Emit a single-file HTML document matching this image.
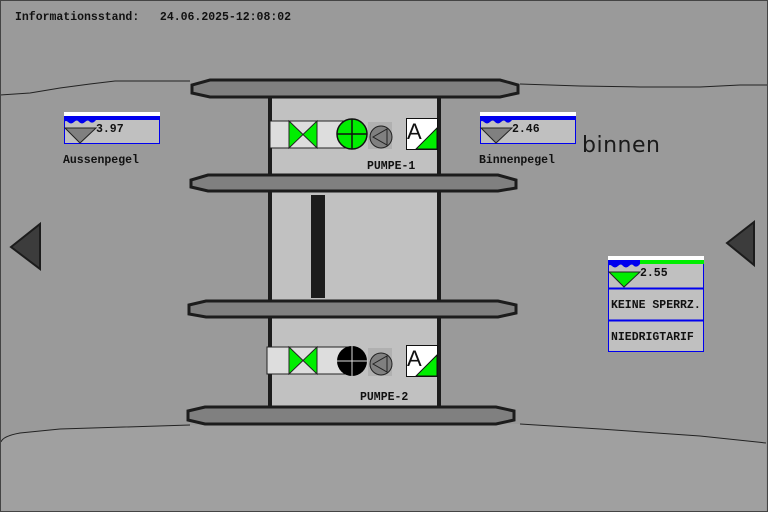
<!DOCTYPE html>
<html><head><meta charset="utf-8"><style>
html,body{margin:0;padding:0;background:#9a9a9a;}
svg{display:block}
text{font-family:"Liberation Mono",monospace;font-weight:bold;font-size:11.5px;fill:#111;white-space:pre}
</style></head><body>
<svg width="768" height="512" viewBox="0 0 768 512" xmlns="http://www.w3.org/2000/svg">
<rect x="0" y="0" width="768" height="512" fill="#9a9a9a"/>
<path d="M1,442 Q3,436 20,433 L60,429 L190,425 L520,424 L600,429 L700,436 L766,443 L766,512 L1,512 Z" fill="#a0a0a0"/>
<path d="M1,442 Q3,436 20,433 L60,429 L190,425 M520,424 L600,429 L700,436 L766,443" fill="none" stroke="#222" stroke-width="1"/>
<polyline points="0,95 30,93 60,88 90,84 115,81 190,81" fill="none" stroke="#222" stroke-width="1"/>
<polyline points="520,84 580,86 640,87 700,87 740,85 768,85" fill="none" stroke="#222" stroke-width="1"/>
<rect x="0.5" y="0.5" width="767" height="511" fill="none" stroke="#444" stroke-width="1"/>
<rect x="270" y="95" width="169" height="313" fill="#c1c1c1"/>
<rect x="268" y="95" width="4" height="313" fill="#1c1c1c"/>
<rect x="437" y="95" width="4" height="313" fill="#1c1c1c"/>
<rect x="311" y="195" width="14" height="103" fill="#1c1c1c"/>
<g fill="#808080" stroke="#1c1c1c" stroke-width="3">
<polygon points="210,80 500,80 518,85 518,93 500,97 210,97 192,93 192,85"/>
<polygon points="208,175 498,175 516,180 516,188 498,191 208,191 191,187 191,180"/>
<polygon points="206,301 498,301 516,305 516,313 498,317 206,317 189,314 189,305"/>
<polygon points="205,407 496,407 514,411 514,420 496,424 205,424 188,420 188,411"/>
</g>
<g>
<rect x="270" y="121" width="80" height="27" fill="#dddddd" stroke="#222" stroke-width="1"/>
<polygon points="289,121 317,148 317,121 289,148" fill="#00ee00" stroke="#222" stroke-width="1"/>
<line x1="289" y1="121" x2="289" y2="148" stroke="#222"/><line x1="317" y1="121" x2="317" y2="148" stroke="#222"/>
<rect x="368" y="122" width="24" height="27" fill="#b0b0b0"/>
<circle cx="352" cy="134" r="15" fill="#00ee00" stroke="#111" stroke-width="1.5"/>
<line x1="337" y1="134" x2="367" y2="134" stroke="#111" stroke-width="1.5"/><line x1="352" y1="119" x2="352" y2="149" stroke="#111" stroke-width="1.5"/>
<circle cx="381" cy="137" r="11" fill="#808080" stroke="#222"/>
<polygon points="373,137 387,129 387,145" fill="none" stroke="#222"/>
<rect x="406.5" y="118.5" width="31" height="31" fill="#fff" stroke="#111"/>
<polygon points="437,128 437,149 416,149" fill="#00ee00" stroke="#111"/>
<text x="407" y="139" style="font-family:'Liberation Sans',sans-serif;font-weight:normal;font-size:22px">A</text>
<text x="367" y="169">PUMPE-1</text>
</g>
<g>
<rect x="267" y="347" width="83" height="27" fill="#dddddd" stroke="#222" stroke-width="1"/>
<polygon points="289,347 317,374 317,347 289,374" fill="#00ee00" stroke="#222" stroke-width="1"/>
<line x1="289" y1="347" x2="289" y2="374" stroke="#222"/><line x1="317" y1="347" x2="317" y2="374" stroke="#222"/>
<rect x="368" y="348" width="24" height="28" fill="#b0b0b0"/>
<circle cx="352" cy="361" r="15" fill="#000"/>
<line x1="337" y1="361" x2="367" y2="361" stroke="#ddd" stroke-width="1"/><line x1="352" y1="346" x2="352" y2="376" stroke="#ddd" stroke-width="1"/>
<circle cx="381" cy="364" r="11" fill="#808080" stroke="#222"/>
<polygon points="373,364 387,356 387,372" fill="none" stroke="#222"/>
<rect x="406.5" y="345.5" width="31" height="31" fill="#fff" stroke="#111"/>
<polygon points="437,355 437,376 416,376" fill="#00ee00" stroke="#111"/>
<text x="407" y="366" style="font-family:'Liberation Sans',sans-serif;font-weight:normal;font-size:22px">A</text>
<text x="360" y="400">PUMPE-2</text>
</g>
<g>
<rect x="64" y="112" width="96" height="5" fill="#fff"/>
<rect x="64.5" y="119.5" width="95" height="24" fill="#c0c0c0" stroke="#0000ee"/>
<rect x="64" y="116" width="96" height="4" fill="#0000ee"/>
<path d="M64,118 h32 v2 q-3,4 -6,2 q-2,-3 -5,0 q-3,3 -6,0 q-2,-3 -5,0 q-3,3 -6,0 q-2,-2 -4,0 Z" fill="#0000ee"/>
<polygon points="65,128 96,128 80,143" fill="#808080" stroke="#222"/>
<text x="96" y="132">3.97</text>
<text x="63" y="163">Aussenpegel</text>
</g>
<g>
<rect x="480" y="112" width="96" height="5" fill="#fff"/>
<rect x="480.5" y="119.5" width="95" height="24" fill="#c0c0c0" stroke="#0000ee"/>
<rect x="480" y="116" width="96" height="4" fill="#0000ee"/>
<path d="M480,118 h32 v2 q-3,4 -6,2 q-2,-3 -5,0 q-3,3 -6,0 q-2,-3 -5,0 q-3,3 -6,0 q-2,-2 -4,0 Z" fill="#0000ee"/>
<polygon points="481,128 512,128 496,143" fill="#808080" stroke="#222"/>
<text x="512" y="132">2.46</text>
<text x="479" y="163">Binnenpegel</text>
</g>
<text x="582" y="152" style="font-family:'DejaVu Sans','Liberation Sans',sans-serif;font-weight:normal;font-size:22px;fill:#1a1a1a;letter-spacing:0.5px">binnen</text>
<g>
<rect x="608" y="256" width="96" height="5" fill="#fff"/>
<rect x="608.5" y="263.5" width="95" height="88" fill="#c0c0c0" stroke="#0000ee"/>
<rect x="608" y="260" width="96" height="4" fill="#00ee00"/>
<path d="M608,260 h32 v4 q-3,4 -6,2 q-2,-3 -5,0 q-3,3 -6,0 q-2,-3 -5,0 q-3,3 -6,0 q-2,-2 -4,0 Z" fill="#0000ee"/>
<polygon points="609,272 640,272 624,287" fill="#00ee00" stroke="#222"/>
<text x="640" y="276">2.55</text>
<line x1="608" y1="288.5" x2="704" y2="288.5" stroke="#0000ee" stroke-width="2"/>
<line x1="608" y1="320.5" x2="704" y2="320.5" stroke="#0000ee" stroke-width="2"/>
<text x="611" y="308">KEINE SPERRZ.</text>
<text x="611" y="340">NIEDRIGTARIF</text>
</g>
<polygon points="11,247 40,224 40,269" fill="#3c3c3c" stroke="#1c1c1c" stroke-width="2"/>
<polygon points="727,243 754,222 754,265" fill="#3c3c3c" stroke="#1c1c1c" stroke-width="2"/>
<text x="15" y="20" xml:space="preserve">Informationsstand:   24.06.2025-12:08:02</text>
</svg>
</body></html>
